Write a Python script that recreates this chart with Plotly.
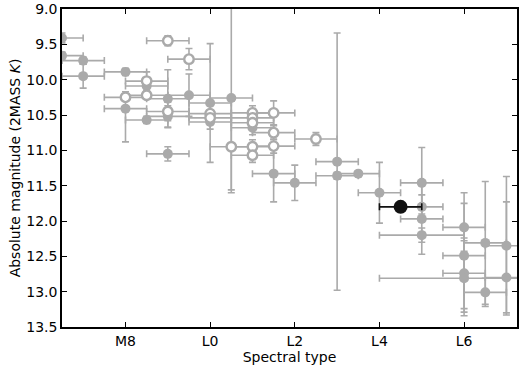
import plotly.graph_objects as go

# Spectral type numeric: M8 = 8, L0 = 10, L2 = 12, ...
tick_vals = [8, 10, 12, 14, 16]
tick_text = ["M8", "L0", "L2", "L4", "L6"]

# Filled grey points
filled_spt = [6.5, 6.5, 7.0, 7.0, 8.0, 8.0, 8.5, 8.5, 9.0, 9.0, 9.0, 9.5,
              10.0, 10.0, 10.5, 11.0, 11.5, 12.0, 13.0, 13.0, 13.5, 14.0,
              15.0, 15.0, 15.0, 15.0, 16.0, 16.0, 16.0, 16.0, 16.5, 16.5, 17.0, 17.0]
filled_mag = [9.41, 9.66, 9.73, 9.95, 9.89, 10.41, 10.09, 10.57, 10.27, 10.52, 11.05, 10.22,
              10.33, 10.60, 10.26, 10.68, 11.33, 11.46, 11.16, 11.36, 11.33, 11.60,
              11.46, 11.80, 11.97, 12.20, 12.09, 12.49, 12.74, 12.81, 12.31, 13.01, 12.35, 12.80]
filled_xerr = [0.5, 0.5, 0.5, 0.5, 0.5, 0.5, 0.5, 0.5, 0.5, 0.5, 0.5, 0.5,
               0.5, 0.5, 0.5, 0.5, 0.5, 0.5, 0.5, 0.5, 0.5, 0.5,
               0.5, 0.5, 0.5, 1.0, 0.5, 0.5, 0.5, 2.0, 0.5, 0.5, 0.5, 0.5]
filled_yerr_plus = [0.07, 0.05, 0.05, 0.17, 0.05, 0.47, 0.10, 0.05, 0.41, 0.15, 0.10, 0.30,
                    0.84, 0.10, 1.30, 0.10, 0.40, 0.25, 1.82, 0.05, 0.04, 0.43,
                    0.50, 0.10, 0.50, 0.10, 0.34, 0.80, 0.50, 0.53, 0.87, 0.20, 0.98, 0.50]
filled_yerr_minus = [0.07, 0.05, 0.05, 0.17, 0.05, 0.24, 0.10, 0.05, 0.41, 0.15, 0.10, 0.30,
                     0.84, 0.10, 1.30, 0.10, 0.40, 0.25, 1.82, 0.05, 0.04, 0.43,
                     0.50, 0.17, 0.50, 0.10, 0.34, 0.89, 0.50, 0.53, 0.87, 0.20, 0.98, 1.07]

# Open grey points
open_spt = [8.0, 8.5, 8.5, 9.0, 9.0, 9.5, 10.0, 10.0, 10.5, 11.0, 11.0, 11.0,
            11.0, 11.0, 11.5, 11.5, 11.5, 12.5]
open_mag = [10.25, 10.02, 10.22, 9.45, 10.45, 9.71, 10.48, 10.54, 10.95, 10.47, 10.54, 10.61,
            10.95, 11.07, 10.47, 10.75, 10.94, 10.84]
open_xerr = [0.5] * 18
open_yerr = [0.05, 0.13, 0.05, 0.07, 0.13, 0.15, 0.05, 0.05, 0.65, 0.10, 0.05, 0.05,
             0.10, 0.10, 0.17, 0.10, 0.10, 0.09]

# Highlighted object
target_spt = [14.5]
target_mag = [11.80]
target_xerr = [0.5]

GREY = "#aaaaaa"

fig = go.Figure()

fig.add_trace(go.Scatter(
    x=filled_spt, y=filled_mag, mode="markers",
    marker=dict(color=GREY, size=10, line=dict(width=0)),
    error_x=dict(type="data", array=filled_xerr, color=GREY, thickness=1.6, width=3.5),
    error_y=dict(type="data", array=filled_yerr_plus, arrayminus=filled_yerr_minus,
                 color=GREY, thickness=1.6, width=3.5),
    showlegend=False,
))

fig.add_trace(go.Scatter(
    x=open_spt, y=open_mag, mode="markers",
    marker=dict(color="white", size=9.5, line=dict(color=GREY, width=2.4)),
    error_x=dict(type="data", array=open_xerr, color=GREY, thickness=1.6, width=3.5),
    error_y=dict(type="data", array=open_yerr, color=GREY, thickness=1.6, width=3.5),
    showlegend=False,
))

fig.add_trace(go.Scatter(
    x=target_spt, y=target_mag, mode="markers",
    marker=dict(color="#111111", size=14, line=dict(width=0)),
    error_x=dict(type="data", array=target_xerr, color="#111111", thickness=1.6, width=3.5),
    showlegend=False,
))

axis_common = dict(
    showline=True, linecolor="black", linewidth=1.5, mirror="allticks",
    ticks="inside", ticklen=5, tickwidth=1, tickcolor="black",
    showgrid=False, zeroline=False, automargin=False,
    tickfont=dict(family="DejaVu Sans", size=14, color="black"),
)

fig.update_xaxes(
    range=[6.5, 17.25], tickmode="array", tickvals=tick_vals, ticktext=tick_text,
    title=dict(text="Spectral type", font=dict(family="DejaVu Sans", size=14, color="black"),
               standoff=4),
    **axis_common,
)
fig.update_yaxes(
    range=[13.5, 9.0], tick0=9.0, dtick=0.5, tickformat=".1f",
    title=dict(text="Absolute magnitude (2MASS <i>K</i>)",
               font=dict(family="DejaVu Sans", size=14, color="black"), standoff=2),
    **axis_common,
)

fig.update_layout(
    width=520, height=370,
    margin=dict(l=62, r=3, t=9, b=43),
    paper_bgcolor="white", plot_bgcolor="white",
    font=dict(family="DejaVu Sans", size=14, color="black"),
)

fig.write_html("out.html", config={"displayModeBar": False},
               post_script="document.body.style.margin='0';")
